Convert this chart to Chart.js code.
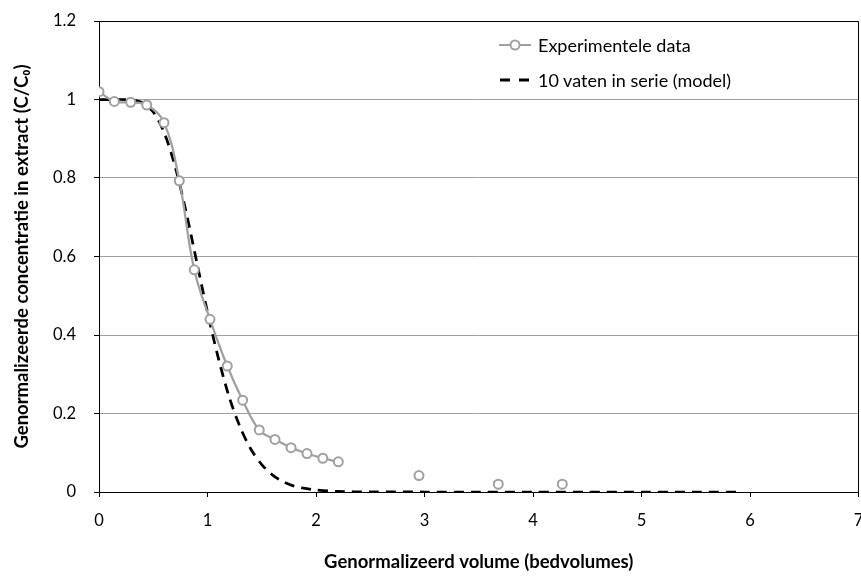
<!DOCTYPE html>
<html>
<head>
<meta charset="utf-8">
<script src="https://cdn.jsdelivr.net/npm/chart.js@4.4.1/dist/chart.umd.min.js"></script>
<style>
  html, body { margin: 0; padding: 0; background: #fff; overflow: hidden; }
  #wrap { position: relative; width: 865px; height: 576px; }
  #c { display: block; }
  #legend { position: absolute; left: 498px; top: 32px; font-family: Lato, "Open Sans", sans-serif; font-size: 18px; color: #000; }
  .row { display: flex; align-items: center; height: 26px; margin-bottom: 9px; }
  .row svg { margin-right: 6px; }
</style>
</head>
<body>
<div id="wrap">
  <canvas id="c" width="865" height="576"></canvas>
  <div id="legend">
    <div class="row"><svg width="34" height="14"><line x1="1" y1="7" x2="33" y2="7" stroke="#a0a0a0" stroke-width="2"/><circle cx="17" cy="7" r="4.5" fill="#fff" stroke="#a0a0a0" stroke-width="2"/></svg><span>Experimentele data</span></div>
    <div class="row"><svg width="34" height="14"><line x1="2" y1="7" x2="32" y2="7" stroke="#000" stroke-width="3" stroke-dasharray="10,9"/></svg><span>10 vaten in serie (model)</span></div>
  </div>
</div>
<script>
// Experimental data (connected series)
const expX = [0, 0.141, 0.292, 0.44, 0.599, 0.740, 0.878, 1.023, 1.182, 1.324, 1.477, 1.622, 1.770, 1.917, 2.063, 2.206];
const expY = [1.020, 0.995, 0.993, 0.986, 0.941, 0.793, 0.566, 0.440, 0.321, 0.234, 0.158, 0.134, 0.113, 0.098, 0.086, 0.077];
// Experimental data (isolated later samples)
const lateX = [2.949, 3.680, 4.270];
const lateY = [0.042, 0.020, 0.020];
// Model curve: 10 vaten in serie
const modelX = [0, 0.1, 0.2, 0.3, 0.4, 0.5, 0.6, 0.7, 0.8, 0.9, 1.0, 1.1, 1.2, 1.3, 1.4, 1.5, 1.6, 1.7, 1.8, 1.9, 2.0, 2.2, 2.5, 3.0, 3.5, 4.0, 4.5, 5.0, 5.5, 5.9];
const modelY = [1.0, 1.0, 1.0, 0.999, 0.992, 0.968, 0.916, 0.831, 0.717, 0.587, 0.458, 0.341, 0.242, 0.166, 0.109, 0.070, 0.043, 0.026, 0.015, 0.009, 0.005, 0.0015, 0.0002, 0, 0, 0, 0, 0, 0, 0];
// Axis ticks
const xTicks = [0, 1, 2, 3, 4, 5, 6, 7];
const yTicks = [0, 0.2, 0.4, 0.6, 0.8, 1.0, 1.2];

const pts = (xs, ys) => xs.map((x, i) => ({ x: x, y: ys[i] }));
const GRAY = '#a0a0a0';
const FONT = 'Lato';

const frame = {
  id: 'frame',
  afterDatasetsDraw(chart) {
    const { ctx, chartArea: a } = chart;
    ctx.save();
    ctx.strokeStyle = '#000';
    ctx.lineWidth = 1;
    ctx.beginPath();
    ctx.moveTo(Math.round(a.left) + 0.5, Math.round(a.top) + 0.5);
    ctx.lineTo(Math.round(a.right) - 0.5, Math.round(a.top) + 0.5);
    ctx.lineTo(Math.round(a.right) - 0.5, Math.round(a.bottom) + 0.5);
    ctx.stroke();
    ctx.restore();
  }
};

new Chart(document.getElementById('c'), {
  type: 'scatter',
  data: {
    datasets: [
      {
        label: '10 vaten in serie (model)',
        data: pts(modelX, modelY),
        showLine: true,
        borderColor: '#000',
        borderWidth: 2.75,
        borderDash: [10, 7],
        pointRadius: 0,
        tension: 0.3,
        order: 2
      },
      {
        label: 'Experimentele data',
        data: pts(expX, expY),
        showLine: true,
        borderColor: GRAY,
        borderWidth: 2.25,
        tension: 0.4,
        pointRadius: 4.5,
        pointBorderWidth: 2,
        pointBorderColor: GRAY,
        pointBackgroundColor: '#fff',
        order: 1
      },
      {
        label: 'late',
        data: pts(lateX, lateY),
        showLine: false,
        pointRadius: 4.5,
        pointBorderWidth: 2,
        pointBorderColor: GRAY,
        pointBackgroundColor: '#fff',
        order: 1
      }
    ]
  },
  options: {
    responsive: false,
    animation: false,
    layout: { padding: { top: 21, left: 11, right: 2, bottom: 0 } },
    plugins: {
      legend: { display: false },
      tooltip: { enabled: false }
    },
    scales: {
      x: {
        type: 'linear',
        min: 0, max: 7,
        afterBuildTicks: (s) => { s.ticks = xTicks.map(v => ({ value: v })); },
        afterFit: (s) => { s.height = 576 - 492; s.paddingLeft = 0; s.paddingRight = 0; },
        ticks: { color: '#000', font: { family: FONT, size: 16.5 }, padding: 14, callback: (v) => String(v) },
        grid: { drawOnChartArea: false, color: '#000', tickColor: '#000', tickLength: 5 },
        border: { display: true, color: '#000', width: 1 },
        title: { display: true, text: 'Genormalizeerd volume (bedvolumes)', color: '#000', font: { family: FONT, size: 18.5, weight: 'bold' }, padding: { top: 0, bottom: 3 } }
      },
      y: {
        type: 'linear',
        min: 0, max: 1.2,
        afterBuildTicks: (s) => { s.ticks = yTicks.map(v => ({ value: v })); },
        afterFit: (s) => { s.width = 99 - 11; s.paddingTop = 0; s.paddingBottom = 0; },
        ticks: { color: '#000', font: { family: FONT, size: 16.5 }, padding: 18, callback: (v) => String(Math.round(v * 10) / 10) },
        grid: { color: GRAY, tickColor: '#000', tickLength: 5 },
        border: { display: true, color: '#000', width: 1 },
        title: { display: true, text: 'Genormalizeerde concentratie in extract (C/C\u2080)', color: '#000', font: { family: FONT, size: 18.5, weight: 'bold' }, padding: { top: 0, bottom: 0 } }
      }
    }
  },
  plugins: [frame]
});
</script>
</body>
</html>
